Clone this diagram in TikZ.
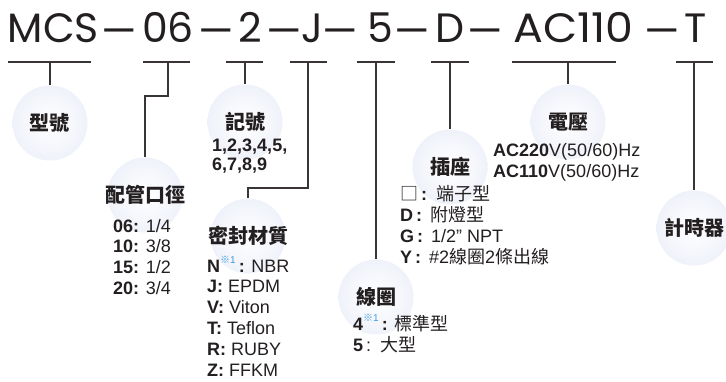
\documentclass[tikz,border=0pt]{standalone}
\usepackage{fontspec}
\setmainfont{Liberation Sans}
\newfontfamily\titlefont{Poppins}
\newfontfamily\cjk{Noto Sans CJK TC}
\definecolor{ink}{HTML}{231F20}
\definecolor{bubbleblue}{RGB}{220,226,244}
\definecolor{notecol}{HTML}{3F9BE0}
\pgfdeclareradialshading{bubble}{\pgfpoint{0bp}{0bp}}{color(0bp)=(white); color(20bp)=(white!65!bubbleblue); color(50bp)=(bubbleblue)}
\newcommand{\noteone}{\raisebox{8.5pt}{\fontsize{10}{10}\selectfont\mdseries\color{notecol}{\cjk ※}1}}
\begin{document}
\begin{tikzpicture}[x=1pt,y=-1pt,
    stem/.style={draw=ink!90,line width=1.2pt},
    bubble/.style={circle,shading=bubble,minimum size=75pt,inner sep=0pt},
    bubbletext/.style={font=\cjk\bfseries\fontsize{20}{24}\selectfont,text=ink},
    items/.style={anchor=base west,align=left,inner sep=0pt,text=ink,font=\fontsize{18}{20.8}\selectfont},
    titletext/.style={anchor=base,inner sep=0pt,text=ink,font=\titlefont\fontsize{41}{41}\selectfont}]
    \useasboundingbox (0,0) rectangle (726,381);
    % model code
    \node[titletext] (t-mcs) at (53.5,42) {MCS};
    \node[titletext] (t-pipe) at (168,42) {06};
    \node[titletext] (t-code) at (250,42) {2};
    \node[titletext] (t-seal) at (312,42) {J};
    \node[titletext] (t-coil) at (380.5,42) {5};
    \node[titletext] (t-socket) at (450,42) {D};
    \node[titletext,transform shape,xscale=1.08] (t-volt) at (573.5,42) {AC110};
    \node[titletext] (t-timer) at (695.5,42) {T};
    \foreach \x/\n in {119.5/1,216.5/2,284/3,340.5/4,412.5/5,485.5/6,662.5/7}
        \node[titletext,transform shape,xscale=1.35] (dash-\n) at (\x,45) {–};
    % underlines
    \draw[stem] (8,62) -- (91,62);
    \draw[stem] (143,62) -- (190,62);
    \draw[stem] (226,62) -- (263,62);
    \draw[stem] (290,62) -- (327,62);
    \draw[stem] (357,62) -- (395,62);
    \draw[stem] (431,62) -- (469,62);
    \draw[stem] (512,62) -- (616,62);
    \draw[stem] (676,62) -- (713,62);
    \coordinate (mcs-u) at (50,62);
    \coordinate (pipe-u) at (168,62);
    \coordinate (code-u) at (245,62);
    \coordinate (seal-u) at (308,62);
    \coordinate (coil-u) at (376,62);
    \coordinate (socket-u) at (450,62);
    \coordinate (volt-u) at (568,62);
    \coordinate (timer-u) at (694,62);
    % bubbles
    \node[bubble,label={[bubbletext]center:型號}] (model) at (50,123) {};
    \node[bubble,label={[bubbletext]center:記號}] (code) at (245,122) {};
    \node[bubble,label={[bubbletext]center:配管口徑}] (pipe) at (145,195) {};
    \node[bubble,label={[bubbletext]center:密封材質}] (seal) at (248,236) {};
    \node[bubble,label={[bubbletext]center:線圈}] (coil) at (376,297) {};
    \node[bubble,label={[bubbletext]center:插座}] (socket) at (450,167) {};
    \node[bubble,label={[bubbletext]center:電壓}] (volt) at (568,122) {};
    \node[bubble,label={[bubbletext]center:計時器}] (timer) at (694,228) {};
    % connectors
    \draw[stem] (mcs-u) -- (model.north);
    \draw[stem] (pipe-u) -- ++(0,34) -| (pipe.north);
    \draw[stem] (code-u) -- (code.north);
    \draw[stem] (seal-u) -- ++(0,126) -| (seal.north);
    \draw[stem] (coil-u) -- (coil.north);
    \draw[stem] (socket-u) -- (socket.north);
    \draw[stem] (volt-u) -- (volt.north);
    \draw[stem] (timer-u) -- (timer.north);
    % option lists (anchored at the last line)
    \node[items,font=\fontsize{18}{19}\selectfont\bfseries] (code-list) at (212,170) {1,2,3,4,5,\\6,7,8,9};
    \node[items] (pipe-list) at (113,294.5) {\textbf{06:} 1/4\\\textbf{10:} 3/8\\\textbf{15:} 1/2\\\textbf{20:} 3/4};
    \node[items] (seal-list) at (207,376) {\textbf{N}\noteone\,\textbf{:} NBR\\\textbf{J:} EPDM\\\textbf{V:} Viton\\\textbf{T:} Teflon\\\textbf{R:} RUBY\\\textbf{Z:} FFKM};
    \node[items] (coil-list) at (353,351) {\textbf{4}\noteone\,\textbf{:} {\cjk 標準型}\\\textbf{5}\,:\, {\cjk 大型}};
    \node[items] (socket-list) at (400,263) {{\cjk □}\,\textbf{:}\, {\cjk 端子型}\\\textbf{D\,:}\, {\cjk 附燈型}\\\textbf{G\,:}\, 1/2" NPT\\\textbf{Y\,:}\, \#2{\cjk 線圈}2{\cjk 條出線}};
    \node[items] (volt-list) at (493,177) {\textbf{AC220}V(50/60)Hz\\\textbf{AC110}V(50/60)Hz};
\end{tikzpicture}
\end{document}
